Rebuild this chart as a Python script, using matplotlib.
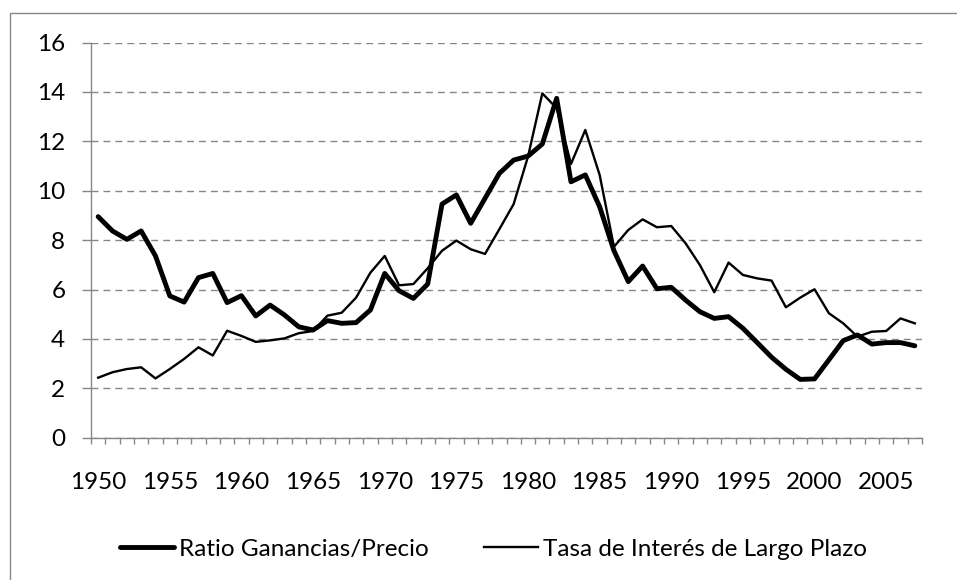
import numpy as np
import matplotlib
matplotlib.use("Agg")
import matplotlib.pyplot as plt
from matplotlib.patches import Rectangle

plt.rcParams['font.family'] = ['Lato', 'DejaVu Sans']
plt.rcParams['lines.scale_dashes'] = False

years = list(range(1950, 2008))
ratio_ganancias_precio = [8.95, 8.37, 8.03, 8.37, 7.36, 5.74, 5.49, 6.48, 6.65, 5.47,
                          5.75, 4.93, 5.37, 4.97, 4.49, 4.36, 4.74, 4.63, 4.66, 5.17,
                          6.65, 5.95, 5.64, 6.22, 9.46, 9.83, 8.68, 9.69, 10.70, 11.24,
                          11.40, 11.89, 13.74, 10.36, 10.64, 9.35, 7.57, 6.32, 6.95, 6.03,
                          6.09, 5.57, 5.10, 4.83, 4.90, 4.43, 3.85, 3.26, 2.77, 2.36,
                          2.38, 3.15, 3.93, 4.16, 3.79, 3.85, 3.85, 3.72]
tasa_interes = [2.43, 2.65, 2.78, 2.85, 2.40, 2.78, 3.19, 3.66, 3.33, 4.33,
                4.12, 3.88, 3.94, 4.02, 4.23, 4.32, 4.94, 5.06, 5.67, 6.68,
                7.36, 6.17, 6.22, 6.86, 7.57, 7.98, 7.63, 7.44, 8.44, 9.46,
                11.38, 13.94, 13.34, 11.08, 12.46, 10.64, 7.73, 8.41, 8.84, 8.52,
                8.57, 7.87, 6.99, 5.89, 7.09, 6.59, 6.45, 6.36, 5.28, 5.67,
                6.01, 5.04, 4.63, 4.09, 4.29, 4.32, 4.83, 4.63]
label_ratio = "Ratio Ganancias/Precio"
label_tasa = "Tasa de Interés de Largo Plazo"
x_labels = list(range(1950, 2006, 5))
y_ticks = list(range(0, 17, 2))

W, H = 957, 580
fig = plt.figure(figsize=(W/100, H/100), dpi=100)
gray = '#868686'
fs = 17.5
fs_px = fs * 100 / 72

# outer chart border
fig.patches.append(Rectangle((10/W, -0.1), 1.2, 1 - 13/H + 0.1, transform=fig.transFigure,
                             fill=False, edgecolor=gray, linewidth=1.0))

ax = fig.add_axes([91/W, (H-437.7)/H, (922-91)/W, (437.7-42.5)/H])
ax.plot(years, ratio_ganancias_precio, color='black', lw=3.5, solid_joinstyle='round',
        solid_capstyle='round', label=label_ratio, zorder=3)
ax.plot(years, tasa_interes, color='black', lw=1.7, solid_joinstyle='round',
        label=label_tasa, zorder=4)

ax.set_xlim(1949.5, 2007.5)
ax.set_ylim(0, 16)
ax.set_yticks(y_ticks)
ax.set_xticks(x_labels)
ax.set_xticks(np.arange(1949.5, 2008, 1.0), minor=True)
ax.tick_params(axis='x', which='major', length=0, pad=25, labelsize=fs)
ax.tick_params(axis='x', which='minor', length=4.5, width=1.0, color=gray, direction='out')
ax.tick_params(axis='y', which='major', length=6.5, width=1.0, color=gray, direction='out',
               pad=12, labelsize=fs)
for s in ['top', 'right']:
    ax.spines[s].set_visible(False)
for s in ['left', 'bottom']:
    ax.spines[s].set_color(gray)
    ax.spines[s].set_linewidth(1.0)
ax.yaxis.grid(True, color=gray, linestyle=(0, (5, 3.6)), linewidth=1.0)
ax.set_axisbelow(True)

leg = fig.legend(loc='center', bbox_to_anchor=(493.5/W, 1 - 549/H), ncol=2, frameon=False,
                 fontsize=fs, handlelength=54/fs_px, handletextpad=5/fs_px,
                 columnspacing=55/fs_px, borderaxespad=0, borderpad=0)

fig.savefig('out.png', dpi=100)
